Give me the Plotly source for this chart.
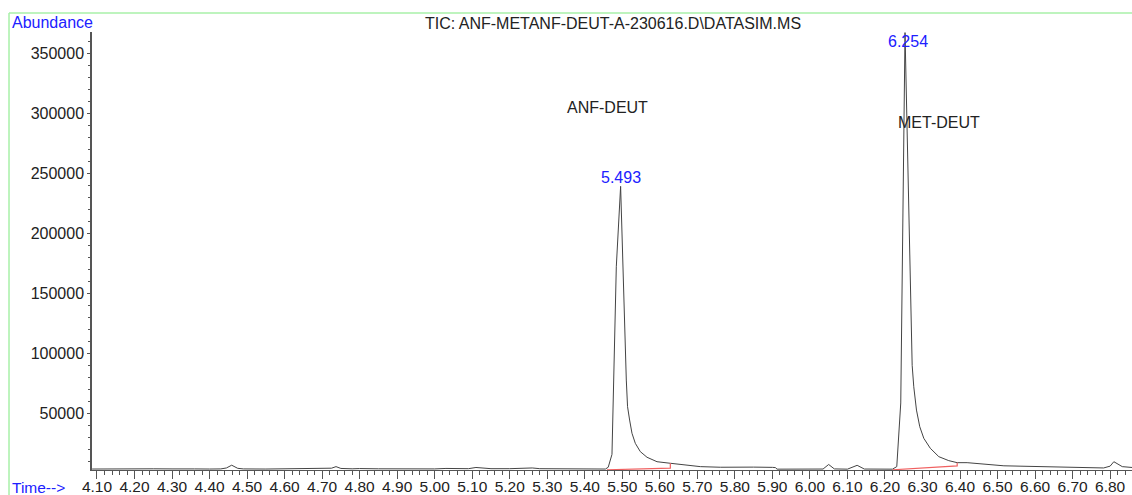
import plotly.graph_objects as go

# Chromatogram (TIC)
time_min = [4.087, 4.12, 4.15, 4.18, 4.21, 4.25, 4.30, 4.33, 4.36, 4.40, 4.43, 4.445, 4.459, 4.475,
            4.49, 4.55, 4.60, 4.65, 4.70, 4.725, 4.737, 4.75, 4.78, 4.80, 4.85, 4.90, 4.95, 5.00,
            5.03, 5.06, 5.09, 5.11, 5.125, 5.15, 5.20, 5.24, 5.26, 5.28, 5.33, 5.38, 5.42, 5.455,
            5.4625, 5.4695, 5.4725, 5.484, 5.4955, 5.5107, 5.514, 5.5195, 5.5258, 5.5347, 5.548,
            5.5659, 5.5925, 5.628, 5.6725, 5.708, 5.7613, 5.80, 5.85, 5.90, 5.908, 5.9125, 5.95,
            6.00, 6.035, 6.050, 6.065, 6.10, 6.1259, 6.145, 6.18, 6.22, 6.2315, 6.2421, 6.2535,
            6.2725, 6.2768, 6.284, 6.2928, 6.3035, 6.3208, 6.3435, 6.370, 6.3925, 6.419, 6.4635,
            6.517, 6.5600, 6.6227, 6.6859, 6.7827, 6.800, 6.810, 6.8325, 6.8627]
abundance = [3600, 3700, 3900, 4000, 3900, 3800, 3700, 4000, 3700, 3600, 3700, 4500, 6800, 4200,
             3700, 3600, 3700, 3600, 3700, 4300, 5600, 4100, 3800, 4000, 3800, 3700, 3800, 3700,
             4100, 4200, 3900, 4900, 4600, 3900, 3900, 4300, 4500, 3900, 3800, 3900, 3800, 3600,
             5100, 12600, 15800, 172000, 239000, 77700, 55500, 44400, 33400, 25000, 18100,
             13400, 9700, 8400, 6700, 5600, 5100, 5300, 5200, 5000, 4800, 3500, 3500,
             3500, 3600, 7400, 3700, 3500, 6700, 3600, 3500, 3500, 5600, 58600, 367000,
             90000, 72100, 52700, 38800, 29200, 20900, 13900, 10600, 8900, 8900, 7800,
             6300, 6000, 5600, 4800, 4500, 6000, 9700, 5600, 4800]

# Integration baselines (red)
int1_t = [5.459, 5.628, 5.628]
int1_y = [3000, 4300, 8400]
int2_t = [6.2205, 6.3925, 6.3925]
int2_y = [3000, 6200, 8900]

peak_labels = ["5.493", "6.254"]
peak_label_t = [5.4973, 6.2627]
peak_label_y = [246600, 359400]
compound_names = ["ANF-DEUT", "MET-DEUT"]
compound_t = [5.46, 6.3427]
compound_y = [304800, 292400]

title_text = "TIC: ANF-METANF-DEUT-A-230616.D\\DATASIM.MS"

FONT = "Liberation Sans, Arial, sans-serif"
AX = "#555555"

fig = go.Figure()
fig.add_trace(go.Scatter(x=time_min, y=abundance, mode="lines",
                         line=dict(color="#444444", width=1), showlegend=False, hoverinfo="x+y"))
for tx, ty in [(int1_t, int1_y), (int2_t, int2_y)]:
    fig.add_trace(go.Scatter(x=tx, y=ty, mode="lines",
                             line=dict(color="#f06060", width=1.2), showlegend=False))

annotations = []
for lbl, t, y in zip(peak_labels, peak_label_t, peak_label_y):
    annotations.append(dict(x=t, y=y, xref="x", yref="y", text=lbl, showarrow=False,
                            font=dict(family=FONT, size=16, color="#2020ff"),
                            xanchor="center", yanchor="middle"))
for lbl, t, y in zip(compound_names, compound_t, compound_y):
    annotations.append(dict(x=t, y=y, xref="x", yref="y", text=lbl, showarrow=False,
                            font=dict(family=FONT, size=16, color="#222222"),
                            xanchor="center", yanchor="middle"))
annotations += [
    dict(x=-0.0788, y=1.0228, xref="paper", yref="paper", text="Abundance", showarrow=False,
         font=dict(family=FONT, size=16, color="#2020ff"), xanchor="left", yanchor="middle"),
    dict(x=-0.0788, y=-0.039, xref="paper", yref="paper", text="Time-->", showarrow=False,
         font=dict(family=FONT, size=15.5, color="#2020ff"), xanchor="left", yanchor="middle"),
    dict(x=0.501, y=1.0205, xref="paper", yref="paper", text=title_text, showarrow=False,
         font=dict(family=FONT, size=16, color="#222222"), xanchor="center", yanchor="middle"),
]

shapes = [
    dict(type="line", xref="paper", yref="paper", x0=-0.0798, x1=1.0, y0=1.0434, y1=1.0434,
         line=dict(color="#a8f0a8", width=1.5)),
    dict(type="line", xref="paper", yref="paper", x0=-0.0798, x1=-0.0798, y0=1.0434, y1=-0.06,
         line=dict(color="#a8f0a8", width=1.5)),
]

fig.update_layout(
    width=1132, height=495,
    margin=dict(l=92, r=0, t=32, b=25, autoexpand=False),
    paper_bgcolor="white", plot_bgcolor="white",
    font=dict(family=FONT, size=16, color="#222222"),
    annotations=annotations, shapes=shapes, showlegend=False,
    xaxis=dict(range=[4.0867, 6.8584], tickmode="linear", tick0=4.1, dtick=0.1, tickformat=".2f",
               ticks="outside", ticklen=8, tickcolor=AX, showline=True, linecolor=AX, linewidth=1,
               showgrid=False, zeroline=False, automargin=False, ticklabelstandoff=-6,
               tickfont=dict(size=15.5, color="#222222"),
               minor=dict(dtick=0.02, tick0=4.1, ticks="outside", ticklen=4, tickcolor=AX, showgrid=False)),
    yaxis=dict(range=[2800, 367500], tickmode="linear", tick0=0, dtick=50000, tickformat="d",
               ticks="outside", ticklen=3, tickcolor=AX, showline=True, linecolor=AX, linewidth=1.5,
               showgrid=False, zeroline=False, automargin=False,
               tickfont=dict(size=16, color="#222222"),
               minor=dict(dtick=10000, tick0=0, ticks="outside", ticklen=2, tickcolor=AX, showgrid=False)),
)

fig.write_html("out.html")
